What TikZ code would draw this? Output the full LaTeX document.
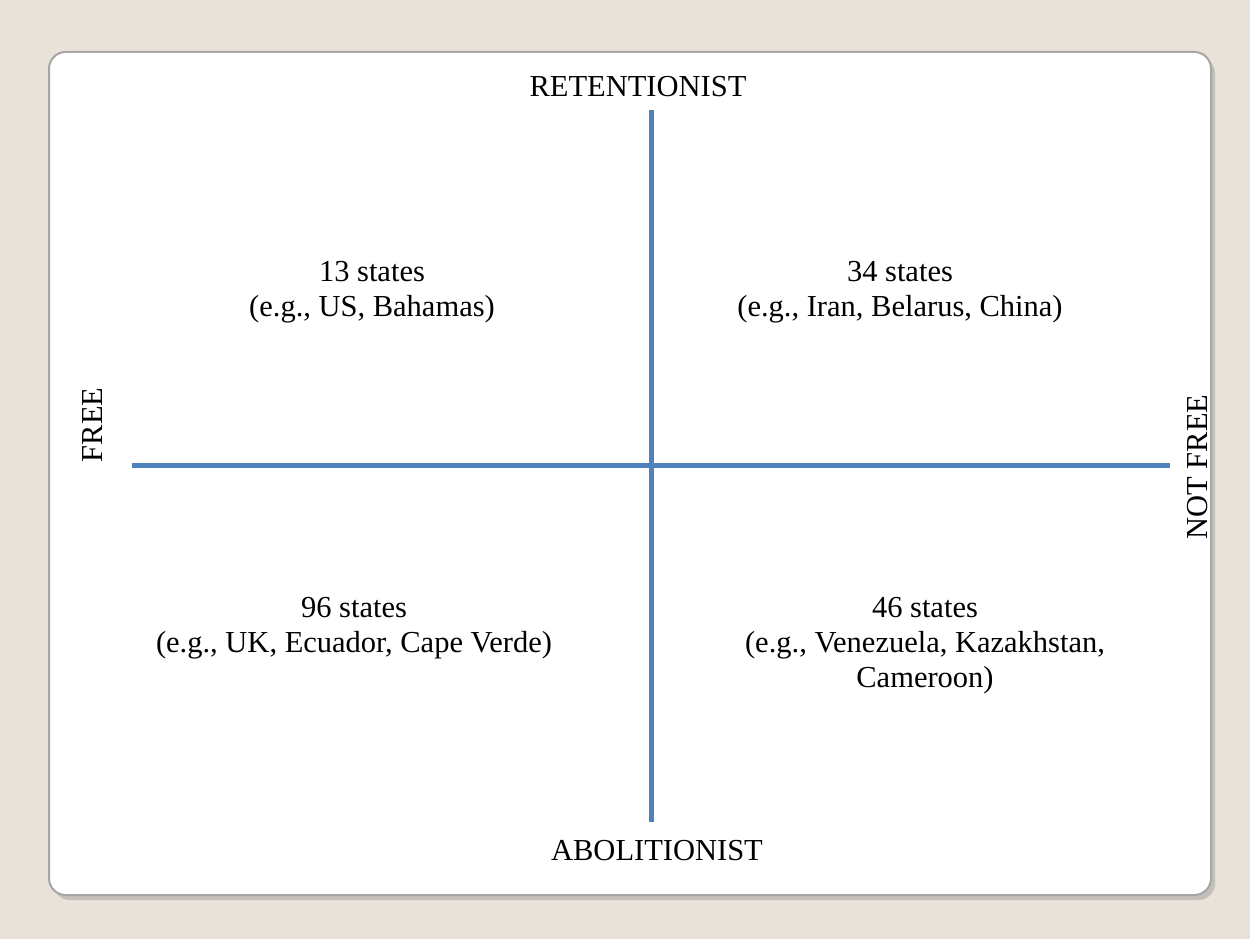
\documentclass[tikz,border=0pt]{standalone}
\usepackage{fontspec}
\setmainfont{Liberation Serif}
\usetikzlibrary{shadows}
\definecolor{parchment}{RGB}{232,226,217}
\definecolor{axisblue}{RGB}{79,129,189}
\definecolor{framegrey}{RGB}{166,166,166}

\begin{document}
\begin{tikzpicture}[x=0.6pt, y=-0.6pt,
	axisline/.style={line width=3pt, axisblue},
	poletext/.style={inner sep=0pt, font=\fontsize{18.3}{21}\selectfont, anchor=base},
	quadtext/.style={inner sep=0pt, align=center, anchor=north, font=\fontsize{18.3}{21}\selectfont}]
	
	% page and card
	\fill[parchment] (0,0) rectangle (1250,939);
	\useasboundingbox (0,0) rectangle (1250,939);
	\filldraw[fill=white, draw=framegrey, line width=1.2pt, rounded corners=10pt,
		drop shadow={shadow xshift=2.5pt, shadow yshift=-3pt, opacity=0.35}] (49,52) rectangle (1211,895);
	
	% axes
	\coordinate (top) at (651,110);
	\coordinate (bottom) at (651,822);
	\coordinate (left) at (132,465);
	\coordinate (right) at (1170,465);
	\draw[axisline] (top) -- (bottom);
	\draw[axisline] (left) -- (right);
	
	% poles
	\node[poletext] (ret) at (638,97) {RETENTIONIST};
	\node[poletext] (abo) at (657,860) {ABOLITIONIST};
	\node[inner sep=0pt, font=\fontsize{18.3}{21}\selectfont, rotate=90] (free) at (93,425) {FREE};
	\node[inner sep=0pt, font=\fontsize{18.3}{21}\selectfont, rotate=90] (notfree) at (1198,467) {NOT FREE};
	
	% quadrants
	\node[quadtext] (nw) at (372,261) {13 states\\(e.g., US, Bahamas)};
	\node[quadtext] (ne) at (900,261) {34 states\\(e.g., Iran, Belarus, China)};
	\node[quadtext] (sw) at (354,597) {96 states\\(e.g., UK, Ecuador, Cape Verde)};
	\node[quadtext] (se) at (925,597) {46 states\\(e.g., Venezuela, Kazakhstan,\\Cameroon)};
	
\end{tikzpicture}
\end{document}
